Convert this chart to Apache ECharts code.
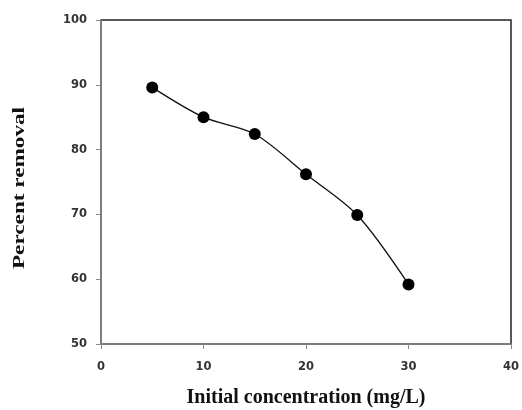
<!DOCTYPE html>
<html>
<head>
<meta charset="utf-8">
<script src="https://cdn.jsdelivr.net/npm/echarts@6/dist/echarts.min.js"></script>
<style>
  html, body { margin: 0; padding: 0; background: #fff; }
  #chart { width: 522px; height: 410px; }
</style>
</head>
<body>
<div id="chart"></div>
<script>
// Initial concentration (mg/L) and percent removal
const concentration = [5, 10, 15, 20, 25, 30];
const percentRemoval = [89.6, 85.0, 82.4, 76.2, 69.9, 59.2];

const xTicks = { min: 0, max: 40, interval: 10 };
const yTicks = { min: 50, max: 100, interval: 10 };

const chart = echarts.init(document.getElementById('chart'));

const tickLabelStyle = {
  color: '#333',
  fontFamily: 'Verdana, "DejaVu Sans", sans-serif',
  fontWeight: 'bold',
  fontSize: 11.5
};
const titleStyle = {
  color: '#111',
  fontFamily: '"Liberation Serif", "Times New Roman", serif',
  fontWeight: 'bold',
  fontSize: 20
};

chart.setOption({
  animation: false,
  backgroundColor: '#fff',
  grid: {
    left: 101, right: 11, top: 20, bottom: 66,
    outerBoundsMode: 'none',
    containLabel: false,
    show: true,
    borderColor: '#222',
    borderWidth: 1.5,
    backgroundColor: 'transparent'
  },
  // Y-axis title, drawn as a stretched text element
  graphic: [{
    type: 'text',
    x: 20,
    y: 188,
    rotation: Math.PI / 2,
    scaleX: 1.45,
    style: {
      text: 'Percent removal',
      font: 'bold 16px "Liberation Serif", "Times New Roman", serif',
      fill: '#111',
      align: 'center',
      verticalAlign: 'middle'
    }
  }],
  xAxis: {
    type: 'value',
    min: xTicks.min, max: xTicks.max, interval: xTicks.interval,
    name: 'Initial concentration (mg/L)',
    nameLocation: 'middle',
    nameGap: 44,
    nameTextStyle: titleStyle,
    axisLine: { show: true, lineStyle: { color: '#888', width: 1.5 } },
    axisTick: { show: true, inside: false, length: 5, lineStyle: { color: '#888' } },
    axisLabel: Object.assign({ margin: 17 }, tickLabelStyle),
    splitLine: { show: false }
  },
  yAxis: {
    type: 'value',
    min: yTicks.min, max: yTicks.max, interval: yTicks.interval,
    axisLine: { show: true, lineStyle: { color: '#888', width: 1.5 } },
    axisTick: { show: true, inside: false, length: 5, lineStyle: { color: '#888' } },
    axisLabel: Object.assign({ margin: 14 }, tickLabelStyle),
    splitLine: { show: false }
  },
  series: [{
    type: 'line',
    data: concentration.map((c, i) => [c, percentRemoval[i]]),
    smooth: 0.3,
    symbol: 'circle',
    symbolSize: 12,
    itemStyle: { color: '#000' },
    lineStyle: { color: '#111', width: 1.3 }
  }]
});
</script>
</body>
</html>
